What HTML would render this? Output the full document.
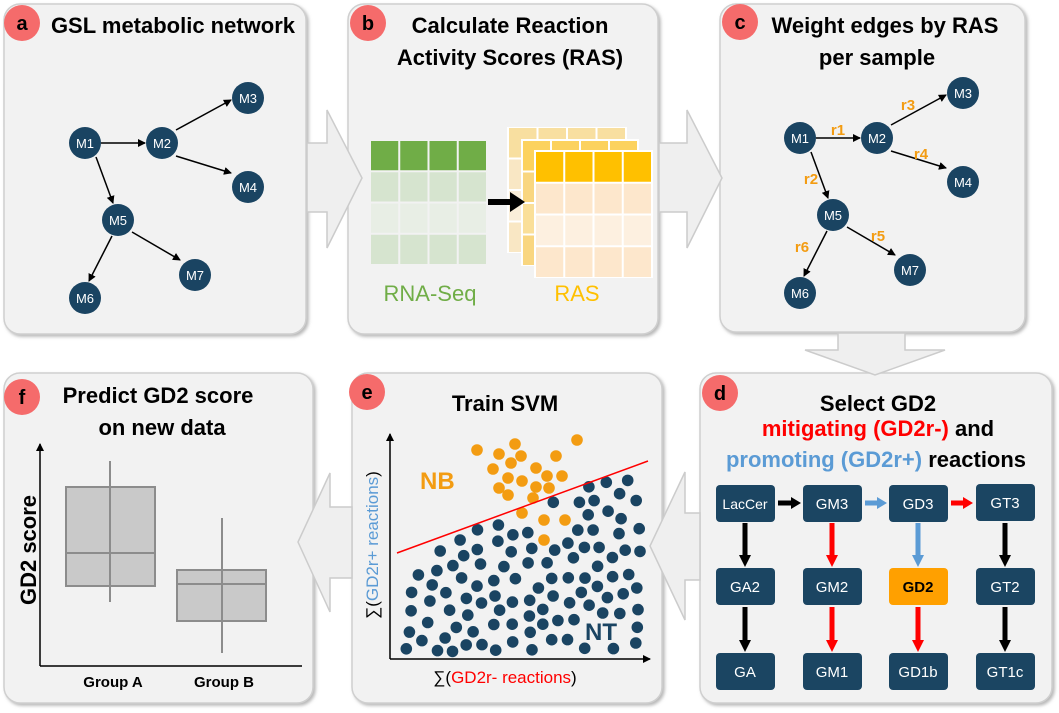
<!DOCTYPE html>
<html><head><meta charset="utf-8"><style>
html,body{margin:0;padding:0;background:#fff;}
svg{display:block;}
text{font-family:"Liberation Sans",sans-serif;}
.t{font-weight:bold;font-size:22px;fill:#000;text-anchor:middle;}
.node{fill:#1a4462;}
.nl{fill:#fff;font-size:13px;text-anchor:middle;}
.r{fill:#f39c12;font-weight:bold;font-size:15px;text-anchor:middle;}
.bx{fill:#1b4562;}
.bl{fill:#fff;font-size:15px;text-anchor:middle;}
</style></head><body>
<svg id="s" width="1059" height="713" viewBox="0 0 1059 713" xmlns="http://www.w3.org/2000/svg">
<defs>
<marker id="ah" markerWidth="8" markerHeight="8" refX="7" refY="4" orient="auto" markerUnits="userSpaceOnUse"><path d="M0,0 L8,4 L0,8 Z" fill="#000"/></marker>
<filter id="sh" x="-5%" y="-5%" width="110%" height="110%"><feDropShadow dx="2" dy="2" stdDeviation="1.5" flood-color="#999" flood-opacity="0.7"/></filter>
</defs>
<g fill="#f2f2f2" stroke="#cfcfcf" stroke-width="1.5" filter="url(#sh)">
<rect x="4" y="4" width="302" height="330" rx="16"/>
<rect x="348" y="4" width="310" height="330" rx="16"/>
<rect x="720" y="4" width="305" height="328" rx="16"/>
<rect x="4" y="373" width="309" height="330" rx="16"/>
<rect x="352" y="373" width="310" height="330" rx="16"/>
<rect x="700" y="373" width="352" height="330" rx="16"/>
</g>
<g fill="#efefef" stroke="#cccccc" stroke-width="1.5">
<path d="M307,143 L327,143 L327,110 L362,178 L327,248 L327,212 L307,212 Z"/>
<path d="M659,143 L687,143 L687,110 L722,178 L687,248 L687,212 L659,212 Z"/>
<path d="M838,333 L905,333 L905,350 L945,350 L875,375 L805,350 L838,350 Z"/>
<path d="M700,513 L685,513 L685,472 L650,546 L685,620 L685,580 L700,580 Z"/>
<path d="M352,507 L330,507 L330,473 L298,542 L330,612 L330,578 L352,578 Z"/>
</g>
<g fill="#f56b6b">
<circle cx="22" cy="23" r="18"/><circle cx="368" cy="23" r="18"/><circle cx="740" cy="22" r="18"/>
<circle cx="22" cy="397" r="18"/><circle cx="367" cy="392" r="18"/><circle cx="720" cy="393" r="18"/>
</g>
<g class="t" style="font-size:20px">
<text x="22" y="30">a</text><text x="368" y="30">b</text><text x="740" y="29">c</text>
<text x="22" y="404">f</text><text x="367" y="399">e</text><text x="720" y="400">d</text>
</g>
<text class="t" x="173" y="33">GSL metabolic network</text>
<text class="t" x="510" y="33">Calculate Reaction</text>
<text class="t" x="510" y="65">Activity Scores (RAS)</text>
<text class="t" x="885" y="33">Weight edges by RAS</text>
<text class="t" x="877" y="65">per sample</text>
<text class="t" x="158" y="403">Predict GD2 score</text>
<text class="t" x="162" y="435">on new data</text>
<text class="t" x="505" y="411">Train SVM</text>
<text class="t" x="878" y="411">Select GD2</text>
<text class="t" x="878" y="436"><tspan fill="#ff0000">mitigating (GD2r-)</tspan> and</text>
<text class="t" x="876" y="467"><tspan fill="#5b9bd5">promoting (GD2r+)</tspan> reactions</text>

<g stroke="#000" stroke-width="1.5" marker-end="url(#ah)">
<line x1="101" y1="143" x2="145" y2="143"/>
<line x1="176" y1="130" x2="231" y2="100"/>
<line x1="176" y1="156" x2="231" y2="173"/>
<line x1="96" y1="157" x2="113" y2="203"/>
<line x1="112" y1="236" x2="89" y2="281"/>
<line x1="132" y1="232" x2="180" y2="260"/>
</g>
<g class="node"><circle cx="85" cy="143" r="16"/><circle cx="162" cy="143" r="16"/><circle cx="248" cy="98" r="16"/><circle cx="248" cy="187" r="16"/><circle cx="118" cy="220" r="16"/><circle cx="195" cy="275" r="16"/><circle cx="85" cy="298" r="16"/></g>
<g class="nl"><text x="85" y="148">M1</text><text x="162" y="148">M2</text><text x="248" y="103">M3</text><text x="248" y="192">M4</text><text x="118" y="225">M5</text><text x="195" y="280">M7</text><text x="85" y="303">M6</text></g>

<g stroke="#000" stroke-width="1.5" marker-end="url(#ah)">
<line x1="816" y1="138" x2="860" y2="138"/>
<line x1="891" y1="125" x2="946" y2="95"/>
<line x1="891" y1="151" x2="946" y2="168"/>
<line x1="811" y1="152" x2="828" y2="198"/>
<line x1="827" y1="231" x2="804" y2="276"/>
<line x1="847" y1="227" x2="895" y2="255"/>
</g>
<g class="node"><circle cx="800" cy="138" r="16"/><circle cx="877" cy="138" r="16"/><circle cx="963" cy="93" r="16"/><circle cx="963" cy="182" r="16"/><circle cx="833" cy="215" r="16"/><circle cx="910" cy="270" r="16"/><circle cx="800" cy="293" r="16"/></g>
<g class="nl"><text x="800" y="143">M1</text><text x="877" y="143">M2</text><text x="963" y="98">M3</text><text x="963" y="187">M4</text><text x="833" y="220">M5</text><text x="910" y="275">M7</text><text x="800" y="298">M6</text></g>
<g class="r"><text x="838" y="135">r1</text><text x="908" y="110">r3</text><text x="921" y="159">r4</text><text x="811" y="184">r2</text><text x="878" y="241">r5</text><text x="802" y="252">r6</text></g>

<g id="tbls"></g>
<path d="M488,199 L510,199 L510,192 L525,202 L510,212 L510,205 L488,205 Z" fill="#000"/>
<text x="430" y="301" fill="#70ad47" font-size="22" text-anchor="middle">RNA-Seq</text>
<text x="577" y="301" fill="#ffc000" font-size="22" text-anchor="middle">RAS</text>

<g stroke="#000" stroke-width="1.5"><line x1="40" y1="666" x2="40" y2="444" marker-end="url(#ah)"/><line x1="40" y1="666" x2="302" y2="666"/></g>
<g stroke="#8c8c8c" stroke-width="2" fill="#c9c9c9">
<rect x="66" y="487" width="89" height="99"/><line x1="66" y1="553" x2="155" y2="553"/><line x1="110" y1="461" x2="110" y2="602"/>
<rect x="177" y="570" width="89" height="51"/><line x1="177" y1="584" x2="266" y2="584"/><line x1="222" y1="518" x2="222" y2="653"/>
</g>
<text x="113" y="687" font-size="15" font-weight="bold" text-anchor="middle">Group A</text>
<text x="224" y="687" font-size="15" font-weight="bold" text-anchor="middle">Group B</text>
<text transform="translate(36,550) rotate(-90)" font-size="22" font-weight="bold" text-anchor="middle">GD2 score</text>

<g id="dots"></g>
<g stroke="#000" stroke-width="1.5"><line x1="390" y1="659" x2="390" y2="434" marker-end="url(#ah)"/><line x1="390" y1="659" x2="650" y2="659" marker-end="url(#ah)"/></g>
<line x1="397" y1="553" x2="648" y2="461" stroke="#ff0000" stroke-width="1.5"/>
<text x="420" y="489" fill="#f39c12" font-size="24" font-weight="bold">NB</text>
<text x="585" y="640" fill="#1a4462" font-size="24" font-weight="bold">NT</text>
<text x="505" y="683" font-size="17" text-anchor="middle">∑(<tspan fill="#ff0000">GD2r- reactions</tspan>)</text>
<text transform="translate(378,545) rotate(-90)" font-size="17" text-anchor="middle">∑(<tspan fill="#5b9bd5">GD2r+ reactions</tspan>)</text>

<g stroke-width="5" fill="none">
<line x1="745" y1="523" x2="745" y2="556" stroke="#000"/>
<line x1="745" y1="607" x2="745" y2="641" stroke="#000"/>
<line x1="832" y1="523" x2="832" y2="556" stroke="#ff0000"/>
<line x1="832" y1="607" x2="832" y2="641" stroke="#ff0000"/>
<line x1="918" y1="523" x2="918" y2="556" stroke="#5b9bd5"/>
<line x1="918" y1="607" x2="918" y2="641" stroke="#ff0000"/>
<line x1="1005" y1="523" x2="1005" y2="556" stroke="#000"/>
<line x1="1005" y1="607" x2="1005" y2="641" stroke="#000"/>
<line x1="778" y1="503" x2="792" y2="503" stroke="#000"/>
<line x1="865" y1="503" x2="878" y2="503" stroke="#5b9bd5"/>
<line x1="951" y1="503" x2="964" y2="503" stroke="#ff0000"/>
</g>
<g>
<path d="M739,555 h12 l-6,12 z" fill="#000"/><path d="M739,640 h12 l-6,12 z" fill="#000"/>
<path d="M826,555 h12 l-6,12 z" fill="#ff0000"/><path d="M826,640 h12 l-6,12 z" fill="#ff0000"/>
<path d="M912,555 h12 l-6,12 z" fill="#5b9bd5"/><path d="M912,640 h12 l-6,12 z" fill="#ff0000"/>
<path d="M999,555 h12 l-6,12 z" fill="#000"/><path d="M999,640 h12 l-6,12 z" fill="#000"/>
<path d="M791,497 v12 l10,-6 z" fill="#000"/><path d="M877,497 v12 l10,-6 z" fill="#5b9bd5"/><path d="M963,497 v12 l10,-6 z" fill="#ff0000"/>
</g>
<g class="bx">
<rect x="716" y="485" width="59" height="37" rx="4"/><rect x="803" y="485" width="59" height="37" rx="4"/><rect x="889" y="485" width="59" height="37" rx="4"/><rect x="976" y="484" width="59" height="37" rx="4"/>
<rect x="716" y="568" width="59" height="37" rx="4"/><rect x="803" y="568" width="59" height="37" rx="4"/><rect x="889" y="568" width="59" height="37" rx="4" fill="#ffa000"/><rect x="976" y="568" width="59" height="37" rx="4"/>
<rect x="716" y="653" width="59" height="37" rx="4"/><rect x="803" y="653" width="59" height="37" rx="4"/><rect x="889" y="653" width="59" height="37" rx="4"/><rect x="976" y="653" width="59" height="37" rx="4"/>
</g>
<g class="bl">
<text x="745" y="509" style="font-size:14px">LacCer</text><text x="832" y="509">GM3</text><text x="918" y="509">GD3</text><text x="1005" y="508">GT3</text>
<text x="745" y="592">GA2</text><text x="832" y="592">GM2</text><text x="918" y="592" fill="#000" font-weight="bold">GD2</text><text x="1005" y="592">GT2</text>
<text x="745" y="677">GA</text><text x="832" y="677">GM1</text><text x="918" y="677">GD1b</text><text x="1005" y="677">GT1c</text>
</g>
</svg>
<script>
(function(){
var NS="http://www.w3.org/2000/svg";
function el(p,t,a){var e=document.createElementNS(NS,t);for(var k in a)e.setAttribute(k,a[k]);p.appendChild(e);return e;}
var tg=document.getElementById("tbls");
function table(x,y,w,h,cols){
  var cw=w/4,rh=h/4;
  for(var r=0;r<4;r++)for(var c=0;c<4;c++){
    el(tg,"rect",{x:x+c*cw+1,y:y+r*rh+1,width:cw-2,height:rh-2,fill:cols[r]});
  }
}
table(370,140,117,125,["#70ad47","#d6e4cf","#e8eee5","#d6e4cf"]);
el(tg,"rect",{x:507,y:127,width:120,height:126,fill:"#fff"});
table(508,127,118,126,["#f8dfa0","#f9e7c4","#faeed9","#f9e7c4"]);
el(tg,"rect",{x:521,y:139,width:118,height:127,fill:"#fff"});
table(522,140,116,126,["#fcd25e","#f9d680","#fadf99","#f9d680"]);
el(tg,"rect",{x:534,y:150,width:119,height:128,fill:"#fff"});
table(535,151,117,127,["#ffc000","#fde7cc","#fdf0e0","#fde7cc"]);
var dg=document.getElementById("dots");
var or=[[477,450],[499,454],[515,444],[521,456],[511,463],[493,469],[536,468],[556,456],[577,440],[508,478],[522,481],[499,488],[508,495],[536,487],[549,488],[562,476],[547,476],[533,498],[522,513],[544,520],[565,520],[544,540]];
var s=12345;function rnd(){s=(s*16807)%2147483647;return s/2147483647;}
var pts=or.slice(),n=0,tries=0;
function ok(x,y){for(var i=0;i<pts.length;i++){var dx=pts[i][0]-x,dy=pts[i][1]-y;if(dx*dx+dy*dy<215)return false;}return true;}
while(n<150&&tries<40000){tries++;
  var x=405+rnd()*235,y=474+rnd()*178;
  var ly=553-(x-397)*(92/251);
  if(y<ly+4)continue;
  if(x<440&&y<570)continue;
  if(x>580&&x<630&&y>615&&y<648)continue;
  if(!ok(x,y))continue; pts.push([x,y]);n++;
  el(dg,"circle",{cx:x.toFixed(1),cy:y.toFixed(1),r:5.8,fill:"#1a4462"});
}
or.forEach(function(p){el(dg,"circle",{cx:p[0],cy:p[1],r:5.8,fill:"#f39c12"});});
})();
</script>
</body></html>
